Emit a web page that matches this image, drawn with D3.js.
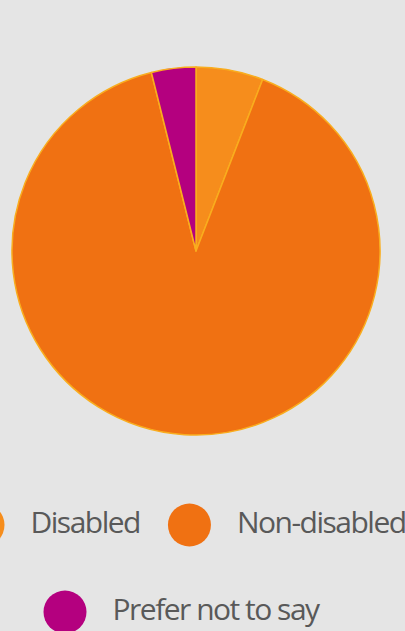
<!DOCTYPE html>
<html>
<head>
<meta charset="utf-8">
<script src="https://cdn.jsdelivr.net/npm/d3@7"></script>
<style>
  html, body { margin: 0; padding: 0; background: #e5e5e5; overflow: hidden; }
  svg { display: block; }
  .legend-label { font-family: "Open Sans", sans-serif; font-size: 30px; fill: #595959; letter-spacing: -1.5px; }
</style>
</head>
<body>
<div id="chart"></div>
<script>
// ======= DATA =======
const categories = ["Disabled", "Non-disabled", "Prefer not to say"];
const shares = [5.9, 90.2, 3.9];
const colors = ["#f68d1c", "#f07112", "#b4007f"];

// legend rows (which categories sit on which line)
const legendRows = [["Disabled", "Non-disabled"], ["Prefer not to say"]];

// ======= SVG SETUP =======
const width = 405;
const height = 631;
const radius = 184;
const cx = 196, cy = 251;

const svg = d3.select("#chart")
  .append("svg")
  .attr("width", width)
  .attr("height", height);

const color = d3.scaleOrdinal().domain(categories).range(colors);

const data = categories.map((c, i) => ({ name: c, value: shares[i] }));

const pie = d3.pie()
  .sort(null)
  .value(d => d.value);

const arcs = pie(data);
const arcGen = d3.arc().innerRadius(0).outerRadius(radius);

const g = svg.append("g")
  .attr("transform", `translate(${cx},${cy})`);

g.selectAll("path.slice")
  .data(arcs)
  .enter()
  .append("path")
  .attr("class", "slice")
  .attr("d", arcGen)
  .attr("fill", d => color(d.data.name))
  .attr("stroke", "#f9ad1e")
  .attr("stroke-width", 1.5)
  .attr("stroke-linejoin", "round");

// ======= LEGEND =======
const rowY = [525, 612];
const rowStart = [-17, 65];
const circleR = 21.5;
const gap = 26;   // circle edge to text
const itemGap = 28; // text end to next circle edge

legendRows.forEach((row, ri) => {
  let x = rowStart[ri];
  row.forEach(name => {
    const item = svg.append("g");
    item.append("circle")
      .attr("cx", x)
      .attr("cy", rowY[ri])
      .attr("r", circleR)
      .attr("fill", color(name));
    const t = item.append("text")
      .attr("class", "legend-label")
      .attr("x", x + circleR + gap)
      .attr("y", rowY[ri] + 8)
      .text(name);
    const w = t.node().getComputedTextLength();
    x = x + circleR + gap + w + itemGap + circleR;
  });
});
</script>
</body>
</html>
